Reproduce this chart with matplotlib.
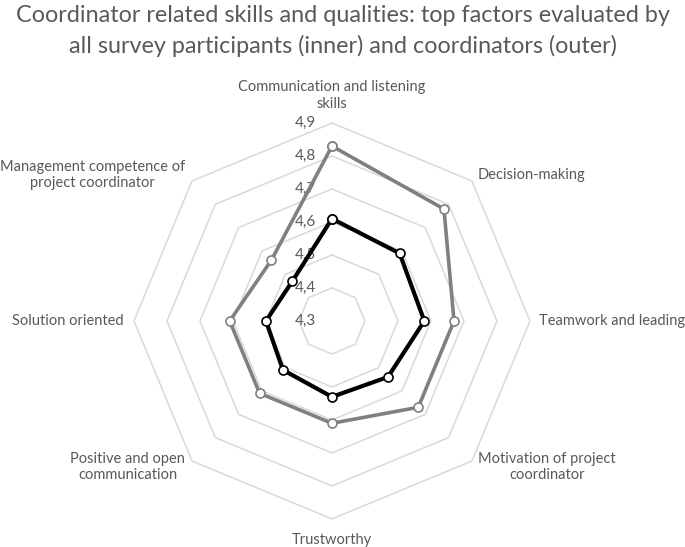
import numpy as np
import matplotlib
matplotlib.use("Agg")
import matplotlib.pyplot as plt

# categories, clockwise from top
categories = [
    "Communication and listening\nskills",
    "Decision-making",
    "Teamwork and leading",
    "Motivation of project\ncoordinator",
    "Trustworthy",
    "Positive and open\ncommunication",
    "Solution oriented",
    "Management competence of\nproject coordinator",
]
all_participants = [4.61, 4.59, 4.58, 4.54, 4.53, 4.51, 4.50, 4.47]  # inner
coordinators = [4.83, 4.78, 4.67, 4.67, 4.61, 4.61, 4.61, 4.56]      # outer
levels = [4.3, 4.4, 4.5, 4.6, 4.7, 4.8, 4.9]
level_labels = ["4,3", "4,4", "4,5", "4,6", "4,7", "4,8", "4,9"]

plt.rcParams['font.family'] = ['Lato', 'DejaVu Sans']
txt = '#595959'

fig = plt.figure(figsize=(6.85, 5.47), dpi=100)
ax = fig.add_axes([0.1956, 0.0512, 0.578, 0.724], projection='polar')
ax.set_theta_offset(np.pi / 2)
ax.set_theta_direction(-1)
ax.set_ylim(levels[0], levels[-1])
ax.grid(False)
ax.spines['polar'].set_visible(False)
ax.set_xticks([])
ax.set_yticks([])
ax.patch.set_visible(False)

n = len(categories)
angles = np.linspace(0, 2 * np.pi, n, endpoint=False)
closed = np.append(angles, angles[0])

# octagon grid
for lv in levels[1:]:
    ax.plot(closed, [lv] * (n + 1), color='#d9d9d9', lw=1.1, zorder=1, clip_on=False)

def close(v):
    return list(v) + [v[0]]

ax.plot(closed, close(coordinators), color='#808080', lw=2.6, marker='o', ms=6.5,
        mfc='white', mec='#808080', mew=1.2, zorder=3, clip_on=False)
ax.plot(closed, close(all_participants), color='black', lw=3.0, marker='o', ms=6.5,
        mfc='white', mec='black', mew=1.2, zorder=4, clip_on=False)

# radial tick labels
for lv, lab in zip(levels, level_labels):
    ax.annotate(lab, xy=(0, lv), xytext=(-16, 0), textcoords='offset pixels',
                ha='right', va='center', fontsize=11, color=txt, zorder=2)

# category labels
offsets = [(0, 12, 'center', 'bottom'), (6, 6, 'left', 'center'), (9, 0, 'left', 'center'),
           (6, -6, 'left', 'center'), (0, -14, 'center', 'top'), (-7, -6, 'right', 'center'),
           (-10, 0, 'right', 'center'), (-7, 6, 'right', 'center')]
for ang, cat, (dx, dy, ha, va) in zip(angles, categories, offsets):
    ax.annotate(cat, xy=(ang, levels[-1]), xytext=(dx, dy), textcoords='offset pixels',
                ha=ha, va=va, multialignment='center', fontsize=10.5, color=txt,
                linespacing=1.25, annotation_clip=False)

fig.text(0.5, 0.99, "Coordinator related skills and qualities: top factors evaluated by\n"
         "all survey participants (inner) and coordinators (outer)",
         ha='center', va='top', fontsize=16.8, color=txt, linespacing=1.45)

fig.savefig('out.png', dpi=100)
